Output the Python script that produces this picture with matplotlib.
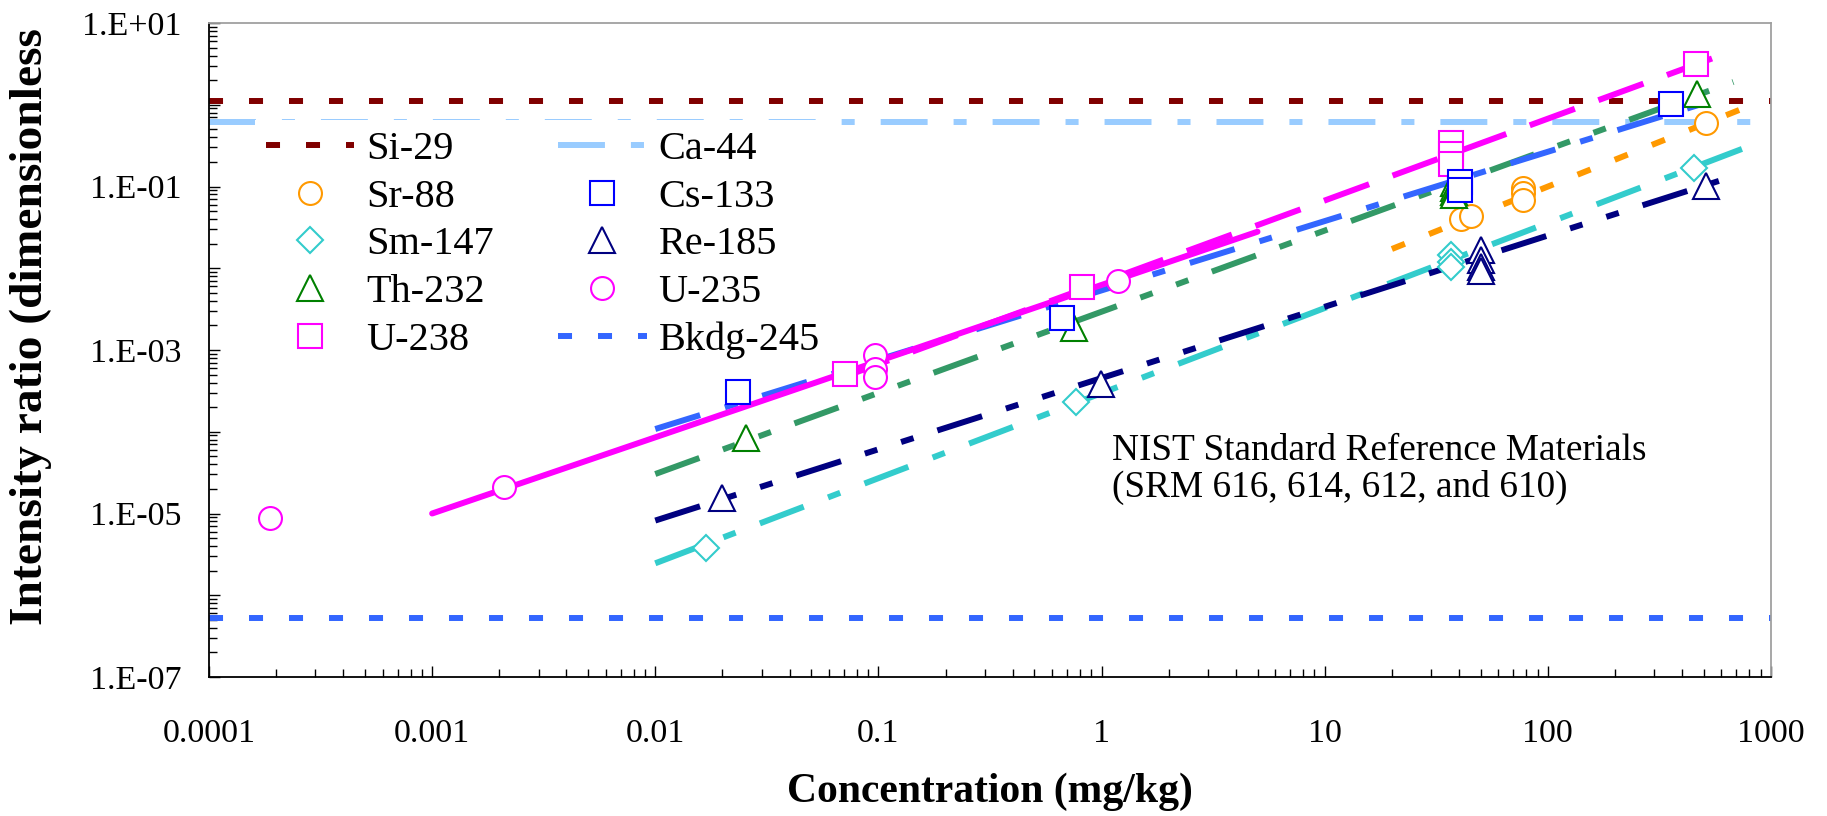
import matplotlib
matplotlib.use("Agg")
import matplotlib.pyplot as plt

plt.rcParams['font.family'] = ['Liberation Serif', 'DejaVu Serif']
plt.rcParams['lines.scale_dashes'] = False

# ---- measured isotopes: concentration (mg/kg) and intensity ratio ----
sr88_conc = [40.9, 45.1, 77, 77, 77, 513]
sr88_ratio = [0.0406, 0.0436, 0.095, 0.083, 0.068, 0.60]

sm147_conc = [0.0169, 0.77, 36.9, 36.9, 36.9, 453]
sm147_ratio = [3.75e-6, 2.33e-4, 0.0145, 0.012, 0.0104, 0.168]

th232_conc = [0.0255, 0.753, 38.1, 38.1, 38.1, 38.1, 465]
th232_ratio = [8.3e-5, 1.85e-3, 0.11, 0.095, 0.085, 0.078, 1.37]

u238_conc = [0.0705, 0.82, 36.7, 36.7, 36.7, 460]
u238_ratio = [5.05e-4, 5.85e-3, 0.34, 0.25, 0.188, 3.15]

cs133_conc = [0.0236, 0.664, 40.5, 40.5, 357]
cs133_ratio = [3.04e-4, 2.44e-3, 0.115, 0.09, 1.01]

re185_conc = [0.0199, 0.996, 50, 50, 50, 50, 512]
re185_ratio = [1.53e-5, 3.8e-4, 0.0167, 0.0125, 0.0104, 0.0093, 0.101]

u235_conc = [1.87e-4, 2.1e-3, 0.097, 0.097, 0.097, 1.19]
u235_ratio = [8.7e-6, 2.09e-5, 8.6e-4, 5.9e-4, 4.7e-4, 6.98e-3]

# ---- constant signals ----
si29_level = 1.1
ca44_level = 0.62
bkdg245_level = 5.2e-7

# ---- calibration fit lines (end points) ----
u235_fit_conc, u235_fit_ratio = [0.001, 5.0], [1.0e-5, 0.028]
u238_fit_conc, u238_fit_ratio = [0.07, 680], [4.7e-4, 4.6]
cs133_fit_conc, cs133_fit_ratio = [0.01, 545], [1.08e-4, 1.12]
th232_fit_conc, th232_fit_ratio = [0.01, 678], [3.04e-5, 1.9]
re185_fit_conc, re185_fit_ratio = [0.01, 584], [8.2e-6, 0.117]
sm147_fit_conc, sm147_fit_ratio = [0.01, 741], [2.46e-6, 0.288]
sr88_fit_conc, sr88_fit_ratio = [20, 731], [0.0172, 0.877]

# ---- axis ticks ----
x_ticks = [1e-4, 1e-3, 1e-2, 1e-1, 1, 10, 100, 1000]
x_tick_labels = ['0.0001', '0.001', '0.01', '0.1', '1', '10', '100', '1000']
y_ticks = [1e-7, 1e-6, 1e-5, 1e-4, 1e-3, 1e-2, 1e-1, 1, 10]
y_tick_labels = ['1.E-07', '', '1.E-05', '', '1.E-03', '', '1.E-01', '', '1.E+01']

# ---- styles ----
LW = 4.3
SQDOT = (0, (10.1, 18.7))
DASHDOT = (0, (33.8, 18.7, 9.4, 18.7))
LONGDASH = (0, (34.6, 18.0))
DASHDOTDOT = (0, (33.8, 18.0, 9.4, 18.0, 9.4, 18.0))

fig = plt.figure(figsize=(18.27, 8.16), dpi=100)
ax = fig.add_axes([0.11439, 0.17034, 0.85495, 0.80147])
ax.set_xscale('log')
ax.set_yscale('log')
ax.set_xlim(1e-4, 1e3)
ax.set_ylim(1e-7, 10)

# horizontal reference levels
h_si = ax.axhline(si29_level, color='#800000', lw=LW, ls=SQDOT, zorder=2, label='Si-29')
h_ca = ax.axhline(ca44_level, color='#99CCFF', lw=LW, ls=DASHDOT, zorder=2, label='Ca-44')
h_bk = ax.axhline(bkdg245_level, color='#3366FF', lw=LW, ls=SQDOT, zorder=2, label='Bkdg-245')

# fit lines
ax.plot(sm147_fit_conc, sm147_fit_ratio, color='#33CCCC', lw=LW, ls=DASHDOT, zorder=2)
ax.plot(re185_fit_conc, re185_fit_ratio, color='#000080', lw=LW, ls=DASHDOTDOT, zorder=2)
ax.plot(th232_fit_conc, th232_fit_ratio, color='#339966', lw=LW, ls=DASHDOTDOT, zorder=2)
ax.plot(cs133_fit_conc, cs133_fit_ratio, color='#3366FF', lw=LW, ls=DASHDOT, zorder=2)
ax.plot(sr88_fit_conc, sr88_fit_ratio, color='#FF9900', lw=LW, ls=SQDOT, zorder=2)
ax.plot(u235_fit_conc, u235_fit_ratio, color='#FF00FF', lw=LW, ls='-',
        solid_capstyle='round', zorder=2)
ax.plot(u238_fit_conc, u238_fit_ratio, color='#FF00FF', lw=LW, ls=LONGDASH, zorder=2)

# data markers
mk = dict(ls='none', mfc='white', mew=1.5, zorder=3)
h_sr, = ax.plot(sr88_conc, sr88_ratio, marker='o', ms=16.5, mec='#FF9900', label='Sr-88', **mk)
h_sm, = ax.plot(sm147_conc, sm147_ratio, marker='D', ms=13, mec='#33CCCC', label='Sm-147', **mk)
h_th, = ax.plot(th232_conc, th232_ratio, marker='^', ms=19, mec='#008000', label='Th-232', **mk)
h_u8, = ax.plot(u238_conc, u238_ratio, marker='s', ms=17, mec='#FF00FF', label='U-238', **mk)
h_cs, = ax.plot(cs133_conc, cs133_ratio, marker='s', ms=17, mec='#0000FF', label='Cs-133', **mk)
h_re, = ax.plot(re185_conc, re185_ratio, marker='^', ms=19, mec='#000080', label='Re-185', **mk)
h_u5, = ax.plot(u235_conc, u235_ratio, marker='o', ms=16.5, mec='#FF00FF', label='U-235', **mk)

# axes appearance
ax.set_xticks(x_ticks)
ax.set_xticklabels(x_tick_labels)
ax.set_yticks(y_ticks)
ax.set_yticklabels(y_tick_labels)
ax.xaxis.set_minor_locator(matplotlib.ticker.LogLocator(base=10, subs=range(2, 10), numticks=50))
ax.yaxis.set_minor_locator(matplotlib.ticker.LogLocator(base=10, subs=range(2, 10), numticks=50))
ax.xaxis.set_minor_formatter(matplotlib.ticker.NullFormatter())
ax.yaxis.set_minor_formatter(matplotlib.ticker.NullFormatter())
ax.tick_params(which='both', direction='in', width=1.0, colors='black',
               top=False, right=False)
ax.tick_params(which='major', length=8)
ax.tick_params(which='minor', length=5.5)
ax.tick_params(axis='x', which='major', labelsize=24.5, pad=30)
ax.tick_params(axis='y', which='major', labelsize=24.5, pad=20)
for s in ('left', 'bottom'):
    ax.spines[s].set_color('black')
    ax.spines[s].set_linewidth(1.3)
for s in ('top', 'right'):
    ax.spines[s].set_color('#a0a0a0')
    ax.spines[s].set_linewidth(1.3)

handles = [h_si, h_sr, h_sm, h_th, h_u8, h_ca, h_cs, h_re, h_u5, h_bk]
leg = ax.legend(handles=handles, labels=[h.get_label() for h in handles],
                ncol=2, loc='upper left', bbox_to_anchor=(0.1395, 0.8529),
                bbox_transform=fig.transFigure, fontsize=29, numpoints=1,
                handlelength=2.2, handletextpad=0.29, columnspacing=1.6,
                labelspacing=0.26, borderpad=0.27, borderaxespad=0,
                frameon=True, fancybox=False, facecolor='white',
                edgecolor='none', framealpha=1)

fig.text(1112 / 1827, 1 - 460 / 816, 'NIST Standard Reference Materials',
         fontsize=26.8, ha='left', va='baseline')
fig.text(1112 / 1827, 1 - 497 / 816, '(SRM 616, 614, 612, and 610)',
         fontsize=26.8, ha='left', va='baseline')

fig.text(990 / 1827, 1 - 802 / 816, 'Concentration (mg/kg)', fontsize=30,
         fontweight='bold', ha='center', va='baseline')
fig.text(31 / 1827, 1 - 326.5 / 816, 'Intensity ratio (dimensionless', fontsize=34.2,
         fontweight='bold', rotation=90, ha='center', va='center')

fig.savefig('out.png', dpi=100)
